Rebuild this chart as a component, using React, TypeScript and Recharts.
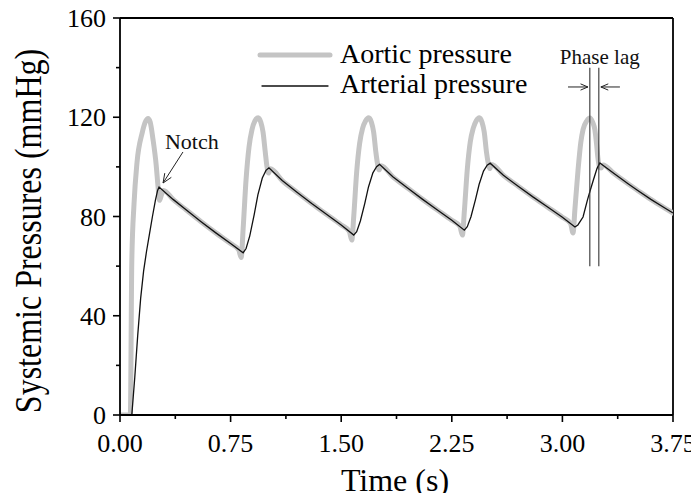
import React from 'react';
import { LineChart, Line, XAxis, YAxis, ReferenceLine, Legend, Label } from 'recharts';

const FONT = '"Liberation Serif", "Times New Roman", Times, serif';

const timeTicks = [0, 0.375, 0.75, 1.125, 1.5, 1.875, 2.25, 2.625, 3, 3.375, 3.75];
const timeTickLabels = ['0.00', '', '0.75', '', '1.50', '', '2.25', '', '3.00', '', '3.75'];
const pressureTicks = [0, 20, 40, 60, 80, 100, 120, 140, 160];
const pressureTickLabels = ['0', '', '40', '', '80', '', '120', '', '160'];

const aorticTime = [
  0, 0.07, 0.08, 0.095, 0.115, 0.15, 0.175, 0.19, 0.205, 0.224, 0.245, 0.258, 0.268, 0.28, 0.295,
  0.36, 0.45, 0.55, 0.65, 0.75, 0.805,
  0.822, 0.835, 0.855, 0.875, 0.895, 0.915, 0.937, 0.955, 0.97, 0.985, 0.997, 1.007, 1.02,
  1.1, 1.2, 1.3, 1.4, 1.5, 1.555,
  1.572, 1.585, 1.605, 1.625, 1.645, 1.665, 1.687, 1.705, 1.72, 1.735, 1.747, 1.757, 1.77,
  1.85, 1.95, 2.05, 2.15, 2.25, 2.305,
  2.322, 2.335, 2.355, 2.375, 2.395, 2.415, 2.437, 2.455, 2.47, 2.485, 2.497, 2.507, 2.52,
  2.6, 2.7, 2.8, 2.9, 3.0, 3.055,
  3.072, 3.085, 3.106, 3.125, 3.14, 3.165, 3.187, 3.205, 3.22, 3.232, 3.24, 3.252, 3.262, 3.275,
  3.35, 3.45, 3.506, 3.6, 3.7, 3.75,
];
const aorticPressure = [
  0, 0, 62, 85, 101.6, 113.6, 118.5, 119.5, 118, 111, 101, 92, 86.5, 88.5, 90.5,
  86.9, 82.6, 77.9, 73.4, 69.1, 66.5,
  63.5, 75, 95, 108, 115, 118.5, 119.8, 118, 114, 106, 100, 97.5, 99.2,
  94.5, 89.8, 85.2, 80.9, 76.6, 74.0,
  70.5, 80, 98, 109.5, 115.5, 118.5, 119.8, 118, 114, 106, 101, 98.8, 100.5,
  96.0, 91.5, 87.0, 82.7, 78.5, 76.0,
  72.5, 82, 99, 110, 115.5, 118.5, 119.8, 118, 114, 106, 101.5, 99.3, 101,
  96.6, 92.2, 87.9, 83.8, 79.7, 77.2,
  73.4, 83, 98.7, 110, 115, 118.5, 119.7, 118, 115, 109, 104, 100, 99.5, 100.8,
  97.3, 93.0, 90.7, 86.9, 83.2, 81.4,
];

const arterialTime = [
  0, 0.08, 0.1, 0.12, 0.14, 0.16, 0.18, 0.2, 0.22, 0.24, 0.255, 0.265,
  0.36, 0.45, 0.55, 0.65, 0.75, 0.835,
  0.855, 0.88, 0.91, 0.935, 0.965, 0.99, 1.01,
  1.1, 1.2, 1.3, 1.4, 1.5, 1.585,
  1.605, 1.63, 1.66, 1.685, 1.715, 1.74, 1.76,
  1.85, 1.95, 2.05, 2.15, 2.25, 2.335,
  2.355, 2.38, 2.41, 2.435, 2.465, 2.49, 2.51,
  2.6, 2.7, 2.8, 2.9, 3.0, 3.085,
  3.105, 3.14, 3.17, 3.19, 3.21, 3.235, 3.254,
  3.35, 3.45, 3.506, 3.6, 3.7, 3.75,
];
const arterialPressure = [
  0, 0, 15, 32, 47, 58, 66, 73, 80, 86.5, 90.5, 91.9,
  86.9, 82.6, 77.9, 73.4, 69.1, 65.4,
  67.1, 72.2, 80.8, 88.7, 95.5, 98.6, 99.6,
  94.5, 89.8, 85.2, 80.9, 76.6, 72.5,
  73.9, 78.2, 85.3, 91.9, 97.6, 100.1, 101,
  96.0, 91.5, 87.0, 82.7, 78.5, 74.5,
  75.9, 79.9, 86.7, 92.9, 98.3, 100.7, 101.5,
  96.6, 92.2, 87.9, 83.8, 79.7, 75.8,
  76.6, 79.8, 86.7, 90.8, 94.7, 99.4, 101.6,
  97.3, 93.0, 90.7, 86.9, 83.2, 81.4,
];

const aorticData = aorticTime.map((t, i) => ({ t, p: aorticPressure[i] }));
const arterialData = arterialTime.map((t, i) => ({ t, p: arterialPressure[i] }));

const GRAY = '#c4c4c4';
const BLACK = '#111111';

const XTick = (props: any) => {
  const { x, y, payload, index } = props;
  let i = typeof index === 'number' ? index : timeTicks.indexOf(payload.value);
  const label = timeTickLabels[i] || '';
  const major = label !== '';
  return (
    <g>
      <line x1={x} y1={y} x2={x} y2={y + (major ? 7 : 4)} stroke="#000" strokeWidth={1.6} />
      {major && (
        <text x={x} y={y + 37} textAnchor="middle" fontSize={26} fontFamily={FONT} fill="#000">
          {label}
        </text>
      )}
    </g>
  );
};

const YTick = (props: any) => {
  const { x, y, payload, index } = props;
  let i = typeof index === 'number' ? index : pressureTicks.indexOf(payload.value);
  const label = pressureTickLabels[i] || '';
  const major = label !== '';
  return (
    <g>
      <line x1={x} y1={y} x2={x - (major ? 7 : 4)} y2={y} stroke="#000" strokeWidth={1.6} />
      {major && (
        <text x={x - 14} y={y} dy="0.35em" textAnchor="end" fontSize={26} fontFamily={FONT} fill="#000">
          {label}
        </text>
      )}
    </g>
  );
};

const arrowHead = (x1: number, y1: number, x2: number, y2: number, L = 8, a = 0.42) => {
  const ang = Math.atan2(y2 - y1, x2 - x1);
  const ax = x2 - L * Math.cos(ang - a);
  const ay = y2 - L * Math.sin(ang - a);
  const bx = x2 - L * Math.cos(ang + a);
  const by = y2 - L * Math.sin(ang + a);
  return `${ax},${ay} ${x2},${y2} ${bx},${by}`;
};

const ArrowShape = (props: any) => {
  const { x1, y1, x2, y2 } = props;
  return (
    <g>
      <line x1={x1} y1={y1} x2={x2} y2={y2} stroke="#222" strokeWidth={1} />
      <polyline points={arrowHead(x1, y1, x2, y2, 8, 0.4)} fill="none" stroke="#222" strokeWidth={1} />
    </g>
  );
};

const NotchShape = (props: any) => {
  const { x1, y1, x2, y2 } = props;
  return (
    <g>
      <line x1={x1} y1={y1} x2={x2} y2={y2} stroke="#222" strokeWidth={1} />
      <polyline points={arrowHead(x1, y1, x2, y2, 10, 0.4)} fill="none" stroke="#222" strokeWidth={1} />
      <text x={x1 - 18} y={y1 - 3} fontSize={22} fontFamily={FONT} fill="#111">Notch</text>
    </g>
  );
};

const LagLine = (props: any) => {
  const { x1, y1, x2, y2 } = props;
  return <line x1={x1} y1={y1} x2={x2} y2={y2} stroke="#333" strokeWidth={1.1} />;
};

const LagLineLabeled = (props: any) => {
  const { x1, y1, x2, y2 } = props;
  const top = Math.min(y1, y2);
  return (
    <g>
      <line x1={x1} y1={y1} x2={x2} y2={y2} stroke="#333" strokeWidth={1.1} />
      <text x={x1 + 1} y={top - 4} textAnchor="middle" fontSize={21} fontFamily={FONT} fill="#111">Phase lag</text>
    </g>
  );
};

const renderLegend = (props: any) => {
  const payload = props.payload || [];
  const items = payload.length
    ? payload
    : [
        { value: 'Aortic pressure', color: GRAY },
        { value: 'Arterial pressure', color: BLACK },
      ];
  return (
    <svg width={320} height={70}>
      {items.map((it: any, i: number) => (
        <g key={i}>
          <line
            x1={i === 0 ? 5 : 7}
            x2={i === 0 ? 75 : 73}
            y1={i === 0 ? 17 : 48}
            y2={i === 0 ? 17 : 48}
            stroke={it.color}
            strokeWidth={i === 0 ? 5 : 1.3}
            strokeLinecap="round"
          />
          <text x={85} y={i === 0 ? 25 : 55} fontSize={28} fontFamily={FONT} fill="#000">
            {it.value}
          </text>
        </g>
      ))}
    </svg>
  );
};

export default function App() {
  return (
    <div style={{ margin: -8 }}>
      <LineChart width={699} height={501} margin={{ top: 18, right: 26, bottom: 26, left: 60 }}>
        <XAxis
          dataKey="t"
          type="number"
          domain={[0, 3.75]}
          ticks={timeTicks}
          interval={0}
          allowDataOverflow
          height={60}
          tickSize={0}
          tickMargin={0}
          tickLine={false}
          axisLine={{ stroke: '#000', strokeWidth: 1.8 }}
          tick={(p: any) => <XTick {...p} />}
        >
          <Label
            content={() => (
              <text x={395} y={491} textAnchor="middle" fontSize={32} fontFamily={FONT} fill="#000">
                Time (s)
              </text>
            )}
          />
        </XAxis>
        <YAxis
          type="number"
          domain={[0, 160]}
          ticks={pressureTicks}
          interval={0}
          allowDataOverflow
          width={60}
          tickSize={0}
          tickMargin={0}
          tickLine={false}
          axisLine={{ stroke: '#000', strokeWidth: 1.8 }}
          tick={(p: any) => <YTick {...p} />}
        >
          <Label
            content={() => (
              <text
                transform="translate(41,231) rotate(-90) scale(1,1.18)"
                textAnchor="middle"
                fontSize={32}
                fontFamily={FONT}
                fill="#000"
              >
                Systemic Pressures (mmHg)
              </text>
            )}
          />
        </YAxis>
        <ReferenceLine y={160} stroke="#000" strokeWidth={1.8} />
        <ReferenceLine x={3.75} stroke="#000" strokeWidth={1.8} />
        <Line
          data={aorticData}
          dataKey="p"
          name="Aortic pressure"
          type="monotone"
          stroke={GRAY}
          strokeWidth={5}
          strokeLinecap="round"
          strokeLinejoin="round"
          dot={false}
          activeDot={false}
          isAnimationActive={false}
        />
        <Line
          data={arterialData}
          dataKey="p"
          name="Arterial pressure"
          type="linear"
          stroke={BLACK}
          strokeWidth={1.3}
          dot={false}
          activeDot={false}
          isAnimationActive={false}
        />
        <ReferenceLine segment={[{ x: 0.427, y: 106 }, { x: 0.292, y: 93.5 }]} shape={(p: any) => <NotchShape {...p} />} />
        <ReferenceLine segment={[{ x: 3.186, y: 60 }, { x: 3.186, y: 140 }]} shape={(p: any) => <LagLine {...p} />} />
        <ReferenceLine segment={[{ x: 3.247, y: 60 }, { x: 3.247, y: 140 }]} shape={(p: any) => <LagLineLabeled {...p} />} />
        <ReferenceLine segment={[{ x: 3.038, y: 132.2 }, { x: 3.173, y: 132.2 }]} shape={(p: any) => <ArrowShape {...p} />} />
        <ReferenceLine segment={[{ x: 3.39, y: 132.2 }, { x: 3.261, y: 132.2 }]} shape={(p: any) => <ArrowShape {...p} />} />
        <Legend
          layout="vertical"
          verticalAlign="middle"
          align="center"
          wrapperStyle={{ position: 'absolute', left: 255, top: 38, width: 320, height: 70 }}
          content={renderLegend}
        />
      </LineChart>
    </div>
  );
}
